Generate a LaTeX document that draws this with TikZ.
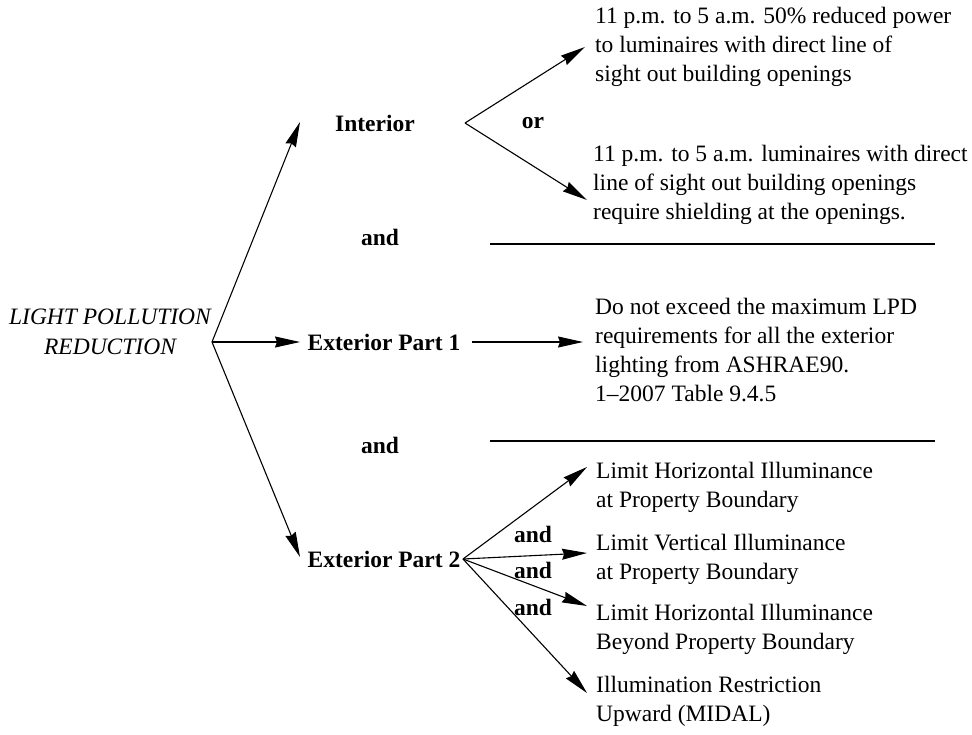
\documentclass[tikz,border=0pt]{standalone}
\usepackage{fontspec}
\setmainfont{Liberation Serif}
\usetikzlibrary{arrows.meta}
\begin{document}
\begin{tikzpicture}[x=1pt,y=-1pt,
  txt/.style={font=\fontsize{23.5}{29}\selectfont, inner sep=0pt},
  lbl/.style={txt, font=\fontsize{23.5}{29}\selectfont\bfseries},
  desc/.style={txt, anchor=west, align=left},
  conn/.style={line width=1.1pt},
  arr/.style={conn, -{Stealth[length=25pt,width=11pt,inset=2pt]}}]
\useasboundingbox (0,0) rectangle (972,734);

% root
\node[txt, align=center, font=\fontsize{23.5}{30}\selectfont\itshape] (root) at (110,332) {LIGHT POLLUTION\\REDUCTION};
\coordinate (rv) at (212,342);

% first level
\node[lbl] (int) at (375,123) {Interior};
\node[lbl] (ext1) at (384,342) {Exterior Part 1};
\node[lbl] (ext2) at (384,559) {Exterior Part 2};
\coordinate (inttip) at (300,122);
\coordinate (ext1tip) at (300,342);
\coordinate (ext2tip) at (300,557);
\draw[arr] (rv) -- (inttip);
\draw[arr] (rv) -- (ext1tip);
\draw[arr] (rv) -- (ext2tip);

% interior options
\coordinate (intv) at (465,123);
\coordinate (i1tip) at (585,47);
\coordinate (i2tip) at (587,200);
\node[desc] (i1) at (595,47) {11 p.m. to 5 a.m. 50\% reduced power\\to luminaires with direct line of\\sight out building openings};
\node[desc] (i2) at (593,185) {11 p.m. to 5 a.m. luminaires with direct\\line of sight out building openings\\require shielding at the openings.};
\node[lbl] (or) at (533,123) {or};
\draw[arr] (intv) -- (i1tip);
\draw[arr] (intv) -- (i2tip);

% separators
\node[lbl] (and1) at (380,237) {and};
\coordinate (s1a) at (490,244);
\coordinate (s1b) at (935,244);
\draw[conn] (s1a) -- (s1b);
\node[lbl] (and2) at (380,445) {and};
\coordinate (s2a) at (490,441);
\coordinate (s2b) at (935,441);
\draw[conn] (s2a) -- (s2b);

% exterior part 1
\coordinate (e1s) at (472,342);
\coordinate (e1tip) at (583,342);
\node[desc] (e1t) at (595,350) {Do not exceed the maximum LPD\\requirements for all the exterior\\lighting from ASHRAE90.\\1--2007 Table 9.4.5};
\draw[arr] (e1s) -- (e1tip);

% exterior part 2
\coordinate (e2v) at (463,559);
\coordinate (p1tip) at (587,467);
\coordinate (p2tip) at (587,553);
\coordinate (p3tip) at (587,606);
\coordinate (p4tip) at (587,693);
\node[desc] (p1) at (596,487) {Limit Horizontal Illuminance\\at Property Boundary};
\node[desc] (p2) at (596,559) {Limit Vertical Illuminance\\at Property Boundary};
\node[desc] (p3) at (596,629) {Limit Horizontal Illuminance\\Beyond Property Boundary};
\node[desc] (p4) at (596,701) {Illumination Restriction\\Upward (MIDAL)};
\draw[arr] (e2v) -- (p1tip);
\draw[arr] (e2v) -- (p2tip);
\draw[arr] (e2v) -- (p3tip);
\draw[arr] (e2v) -- (p4tip);
\node[lbl] (and3) at (533,534) {and};
\node[lbl] (and4) at (533,570) {and};
\node[lbl] (and5) at (533,607) {and};
\end{tikzpicture}
\end{document}
